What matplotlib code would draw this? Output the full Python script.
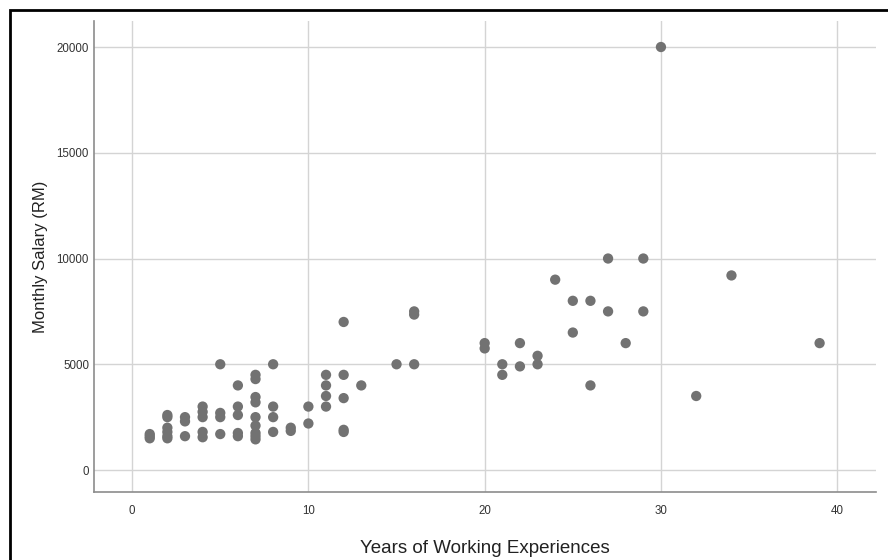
import matplotlib.pyplot as plt
from matplotlib.patches import Rectangle

# years of working experience vs monthly salary (RM)
years = [1, 1, 1,
         2, 2, 2, 2, 2, 2,
         3, 3, 3,
         4, 4, 4, 4, 4,
         5, 5, 5, 5,
         6, 6, 6, 6, 6,
         7, 7, 7, 7, 7, 7, 7, 7, 7,
         8, 8, 8, 8,
         9, 9,
         10, 10,
         11, 11, 11, 11,
         12, 12, 12, 12, 12,
         13, 15, 16, 16, 16,
         20, 20, 21, 21, 22, 22, 23, 23,
         24, 25, 25, 26, 26, 27, 27, 28, 29, 29,
         30, 32, 34, 39]
salary = [1500, 1600, 1700,
          2600, 2500, 2000, 1800, 1600, 1500,
          2500, 2300, 1600,
          3000, 2750, 2500, 1800, 1550,
          5000, 2700, 2500, 1700,
          4000, 3000, 2600, 1750, 1600,
          4500, 4300, 3450, 3200, 2500, 2100, 1750, 1600, 1450,
          5000, 3000, 2500, 1800,
          2000, 1850,
          3000, 2200,
          4500, 4000, 3500, 3000,
          7000, 4500, 3400, 1900, 1800,
          4000, 5000, 7500, 7350, 5000,
          6000, 5750, 5000, 4500, 6000, 4900, 5400, 5000,
          9000, 8000, 6500, 8000, 4000, 10000, 7500, 6000, 10000, 7500,
          20000, 3500, 9200, 6000]

x_ticks = [0, 10, 20, 30, 40]
y_ticks = [0, 5000, 10000, 15000, 20000]

plt.rcParams['font.family'] = ['Liberation Sans', 'DejaVu Sans']

fig = plt.figure(figsize=(8.88, 5.6), dpi=100)
ax = fig.add_axes([0.1059, 0.1214, 0.8806, 0.8411])

# screenshot frame (only top and left edges show)
fig.add_artist(Rectangle((10 / 888, -0.1), 1.2, (550 / 560) + 0.1,
                         transform=fig.transFigure, fill=False,
                         edgecolor='black', linewidth=2, zorder=10))

ax.scatter(years, salary, s=55, color='#727272', edgecolors='none', zorder=3)

ax.set_xlim(-2.16, 42.2)
ax.set_ylim(-1040, 21230)
ax.set_xticks(x_ticks)
ax.set_yticks(y_ticks)
ax.grid(True, color='#d4d4d4', linewidth=1)
ax.set_axisbelow(True)

for s in ['top', 'right']:
    ax.spines[s].set_visible(False)
for s in ['left', 'bottom']:
    ax.spines[s].set_color('#8c8c8c')
    ax.spines[s].set_linewidth(1.2)

ax.tick_params(length=0, labelsize=8.3, labelcolor='#333333', pad=9)
ax.tick_params(axis='y', pad=3.6)

ax.set_xlabel('Years of Working Experiences', fontsize=13.5, labelpad=17,
              color='#222222')
ax.set_ylabel('Monthly Salary (RM)', fontsize=12, labelpad=6,
              color='#222222')

fig.savefig('out.png', dpi=100)
